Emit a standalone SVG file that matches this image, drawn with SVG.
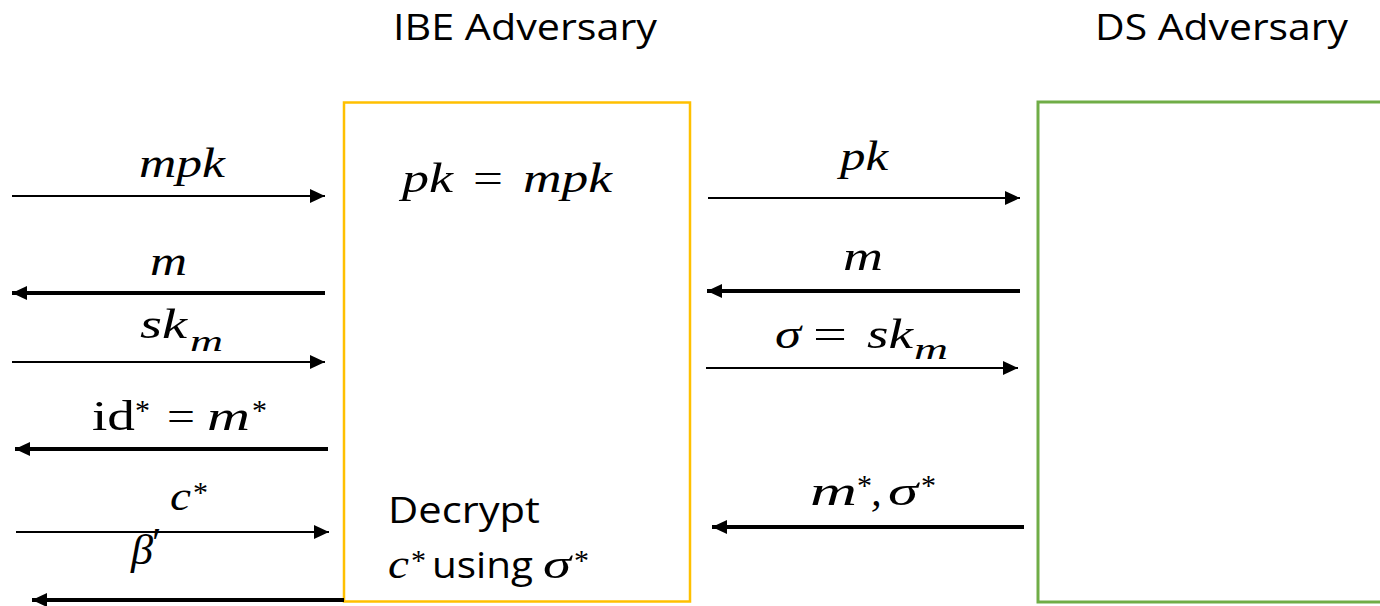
<svg xmlns="http://www.w3.org/2000/svg" width="1380" height="606" viewBox="0 0 1380 606">
  <style>
    .title { font-family: "Open Sans", "Liberation Sans", sans-serif; font-size: 37px; fill: #000; }
    .body { font-family: "Open Sans", "Liberation Sans", sans-serif; font-size: 37px; fill: #000; }
    .math { font-family: "Liberation Serif", "DejaVu Serif", serif; font-style: italic; font-size: 43px; fill: #000; }
    .up { font-family: "Liberation Serif", "DejaVu Serif", serif; font-style: normal; font-size: 43px; fill: #000; }
    .sub { font-family: "Liberation Serif", "DejaVu Serif", serif; font-style: italic; font-size: 30px; fill: #000; }
    .star { font-family: "Liberation Serif", "DejaVu Serif", serif; font-style: normal; font-size: 30px; fill: #000; }
    .thin { stroke: #000; stroke-width: 2; fill: none; marker-end: url(#head); }
    .thick { stroke: #000; stroke-width: 4; fill: none; marker-end: url(#head); }
  </style>
  <defs>
    <marker id="head" markerUnits="userSpaceOnUse" markerWidth="15" markerHeight="14" refX="15" refY="7" orient="auto">
      <path d="M0,0 L15,7 L0,14 z" fill="#000"/>
    </marker>
  </defs>

  <rect width="1380" height="606" fill="#fff"/>

  <!-- IBE adversary -->
  <g id="ibe-adversary">
    <text class="title" x="393" y="40" textLength="264" lengthAdjust="spacingAndGlyphs">IBE Adversary</text>
    <rect x="344" y="102.5" width="346" height="499" fill="none" stroke="#FFC000" stroke-width="2.5"/>
    <text class="math" x="402" y="192" textLength="51" lengthAdjust="spacingAndGlyphs">pk</text>
    <text class="up" x="473" y="192" textLength="30" lengthAdjust="spacingAndGlyphs">=</text>
    <text class="math" x="523" y="192" textLength="89" lengthAdjust="spacingAndGlyphs">mpk</text>
    <text class="body" x="388" y="523" textLength="152" lengthAdjust="spacingAndGlyphs">Decrypt</text>
    <text class="math" x="388" y="578" textLength="21" lengthAdjust="spacingAndGlyphs">c</text>
    <text class="star" x="411" y="570">*</text>
    <text class="body" x="432" y="578" textLength="101" lengthAdjust="spacingAndGlyphs">using</text>
    <text class="math" x="543" y="578" textLength="28" lengthAdjust="spacingAndGlyphs">σ</text>
    <text class="star" x="574" y="570">*</text>
  </g>

  <!-- DS adversary -->
  <g id="ds-adversary">
    <text class="title" x="1095" y="40" textLength="253" lengthAdjust="spacingAndGlyphs">DS Adversary</text>
    <rect x="1038" y="102" width="360" height="500" fill="none" stroke="#70AD47" stroke-width="3"/>
  </g>

  <!-- message arrows -->
  <g id="connectors">
    <line class="thin" x1="12" y1="196" x2="325" y2="196"/>
    <line class="thick" x1="325" y1="293" x2="12" y2="293"/>
    <line class="thin" x1="12" y1="362" x2="325" y2="362"/>
    <line class="thick" x1="328" y1="449" x2="15" y2="449"/>
    <line class="thin" x1="16" y1="532" x2="329" y2="532"/>
    <line class="thick" x1="344" y1="600" x2="32" y2="600"/>

    <line class="thin" x1="708" y1="198" x2="1020" y2="198"/>
    <line class="thick" x1="1020" y1="291" x2="707" y2="291"/>
    <line class="thin" x1="706" y1="368" x2="1018" y2="368"/>
    <line class="thick" x1="1024" y1="527" x2="712" y2="527"/>
  </g>

  <!-- arrow labels -->
  <g id="labels">
    <text class="math" x="139" y="177" textLength="86" lengthAdjust="spacingAndGlyphs">mpk</text>
    <text class="math" x="150" y="275" textLength="37" lengthAdjust="spacingAndGlyphs">m</text>
    <text class="math" x="140" y="338" textLength="47" lengthAdjust="spacingAndGlyphs">sk</text>
    <text class="sub" x="190" y="351" textLength="33" lengthAdjust="spacingAndGlyphs">m</text>
    <text class="up" x="92" y="430" textLength="43" lengthAdjust="spacingAndGlyphs">id</text>
    <text class="star" x="135" y="420">*</text>
    <text class="up" x="167" y="430" textLength="28" lengthAdjust="spacingAndGlyphs">=</text>
    <text class="math" x="207" y="430" textLength="43" lengthAdjust="spacingAndGlyphs">m</text>
    <text class="star" x="252" y="420">*</text>
    <text class="math" x="170" y="510" textLength="21" lengthAdjust="spacingAndGlyphs">c</text>
    <text class="star" x="193" y="502">*</text>
    <text class="math" x="131" y="564" font-size="48" textLength="22" lengthAdjust="spacingAndGlyphs">β</text>
    <text class="up" x="152" y="557" font-size="34">′</text>

    <text class="math" x="840" y="170" textLength="48" lengthAdjust="spacingAndGlyphs">pk</text>
    <text class="math" x="843" y="270" textLength="40" lengthAdjust="spacingAndGlyphs">m</text>
    <text class="math" x="775" y="348" textLength="26" lengthAdjust="spacingAndGlyphs">σ</text>
    <text class="up" x="813" y="348" textLength="34" lengthAdjust="spacingAndGlyphs">=</text>
    <text class="math" x="867" y="348" textLength="46" lengthAdjust="spacingAndGlyphs">sk</text>
    <text class="sub" x="914" y="359" textLength="34" lengthAdjust="spacingAndGlyphs">m</text>
    <text class="math" x="810" y="505" textLength="47" lengthAdjust="spacingAndGlyphs">m</text>
    <text class="star" x="857" y="495">*</text>
    <text class="math" x="871" y="505">,</text>
    <text class="math" x="888" y="505" textLength="30" lengthAdjust="spacingAndGlyphs">σ</text>
    <text class="star" x="921" y="495">*</text>
  </g>
</svg>
